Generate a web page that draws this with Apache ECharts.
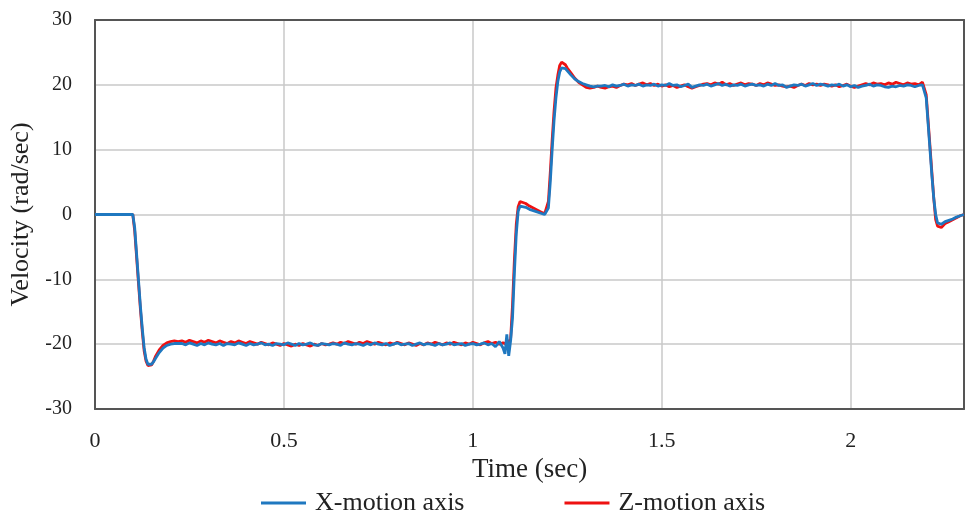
<!DOCTYPE html>
<html>
<head>
<meta charset="utf-8">
<script src="https://cdn.jsdelivr.net/npm/echarts@6/dist/echarts.min.js"></script>
<style>
html,body{margin:0;padding:0;background:#fff;}
#chart{width:967px;height:513px;}
</style>
</head>
<body>
<div id="chart"></div>
<script>
// Sample times (sec)
var times = [
  0, 0.1,
  0.105, 0.11, 0.115, 0.12, 0.125, 0.13, 0.135, 0.14, 0.145, 0.15, 0.155, 0.16, 0.17, 0.18, 0.19, 0.2, 0.21, 0.22,
  0.23, 0.24, 0.25, 0.26, 0.27, 0.28, 0.29, 0.30, 0.31, 0.32,
  0.33, 0.34, 0.35, 0.36, 0.37, 0.38, 0.39, 0.40, 0.41, 0.42,
  0.43, 0.44, 0.45, 0.46, 0.47, 0.48, 0.49, 0.50, 0.51, 0.52,
  0.53, 0.54, 0.55, 0.56, 0.57, 0.58, 0.59, 0.60, 0.61, 0.62,
  0.63, 0.64, 0.65, 0.66, 0.67, 0.68, 0.69, 0.70, 0.71, 0.72,
  0.73, 0.74, 0.75, 0.76, 0.77, 0.78, 0.79, 0.80, 0.81, 0.82,
  0.83, 0.84, 0.85, 0.86, 0.87, 0.88, 0.89, 0.90, 0.91, 0.92,
  0.93, 0.94, 0.95, 0.96, 0.97, 0.98, 0.99, 1.00, 1.01, 1.02,
  1.03, 1.04, 1.05, 1.06, 1.07, 1.08,
  1.085, 1.09, 1.095, 1.1, 1.105, 1.11, 1.115, 1.12, 1.125, 1.13, 1.14, 1.15, 1.16, 1.17, 1.18, 1.19,
  1.195, 1.2, 1.205, 1.21, 1.215, 1.22, 1.225, 1.23, 1.235, 1.24, 1.245, 1.25, 1.26, 1.27, 1.28, 1.29,
  1.3, 1.31, 1.32, 1.33,
  1.34, 1.35, 1.36, 1.37, 1.38, 1.39, 1.40, 1.41, 1.42, 1.43,
  1.44, 1.45, 1.46, 1.47, 1.48, 1.49, 1.50, 1.51, 1.52, 1.53,
  1.54, 1.55, 1.56, 1.57, 1.58, 1.59, 1.60, 1.61, 1.62, 1.63,
  1.64, 1.65, 1.66, 1.67, 1.68, 1.69, 1.70, 1.71, 1.72, 1.73,
  1.74, 1.75, 1.76, 1.77, 1.78, 1.79, 1.80, 1.81, 1.82, 1.83,
  1.84, 1.85, 1.86, 1.87, 1.88, 1.89, 1.90, 1.91, 1.92, 1.93,
  1.94, 1.95, 1.96, 1.97, 1.98, 1.99, 2.00, 2.01, 2.02, 2.03,
  2.04, 2.05, 2.06, 2.07, 2.08, 2.09, 2.10, 2.11, 2.12, 2.13,
  2.14, 2.15, 2.16, 2.17, 2.18, 2.19,
  2.195, 2.2, 2.205, 2.21, 2.215, 2.22, 2.225, 2.23, 2.235, 2.24, 2.245, 2.25, 2.26, 2.27, 2.28, 2.29, 2.3
];

// X-motion axis velocity (rad/sec)
var xMotion = [
  0, 0,
  -2, -6, -10, -14, -17.5, -20.5, -22.3, -23.1, -23.3, -23.1, -22.7, -22.2, -21.3, -20.6, -20.2, -20.0, -19.9, -19.9,
  -19.9,-20.1,-19.8,-20.0,-20.2,-19.9,-20.1,-19.8,-20.0,-20.1,
  -19.9,-20.2,-19.9,-20.0,-20.1,-19.8,-20.0,-20.2,-19.9,-20.1,
  -20.0,-19.8,-20.1,-20.0,-20.2,-19.9,-20.0,-20.1,-19.8,-20.0,
  -20.2,-19.9,-20.1,-20.0,-19.8,-20.1,-20.2,-19.9,-20.0,-20.1,
  -19.9,-20.0,-20.2,-19.8,-20.0,-20.1,-19.9,-20.0,-20.2,-19.9,
  -20.1,-19.8,-20.0,-20.1,-19.9,-20.2,-20.0,-19.8,-20.1,-20.0,
  -19.9,-20.2,-20.0,-19.8,-20.1,-19.9,-20.0,-20.2,-19.9,-20.1,
  -20.0,-19.8,-20.1,-20.0,-19.9,-20.2,-20.0,-19.9,-20.1,-20.0,
  -19.8,-20.1,-19.9,-20.4,-19.6,-20.6,
  -21.5, -18.5, -21.8, -19.5, -16, -9, -3, 0.5, 1.3, 1.4, 1.1, 0.8, 0.6, 0.4, 0.2, 0.0,
  -0.1, 1, 5, 10, 14.5, 18, 20.5, 22, 22.6, 22.7, 22.5, 22.2, 21.5, 20.9, 20.5, 20.2,
  20.0, 19.8, 19.7, 19.8,
  19.8,19.9,19.7,20.0,19.8,19.9,20.1,19.8,20.0,19.9,
  20.1,19.8,20.0,19.9,20.1,19.8,20.0,19.9,20.2,19.9,
  20.0,19.7,19.9,20.1,19.6,19.8,20.0,19.9,20.1,19.8,
  20.0,20.2,19.9,20.1,19.8,20.0,19.9,20.1,19.8,20.0,
  20.1,19.9,20.0,19.8,20.1,19.9,20.2,19.9,20.0,19.6,
  19.8,20.0,19.9,20.1,19.8,20.0,20.2,19.9,20.1,20.0,
  19.8,20.0,19.9,20.1,19.8,20.0,19.7,19.9,19.6,19.8,
  19.9,20.1,19.8,20.0,19.9,19.7,19.6,19.8,19.7,19.9,
  19.8,20.0,19.9,19.7,19.9,20.0,
  20.0, 18, 14, 10, 6, 2.5, 0, -1.3, -1.6, -1.5, -1.3, -1.1, -0.9, -0.7, -0.4, -0.2, 0
];

// Z-motion axis velocity (rad/sec)
var zMotion = [
  0, 0,
  -2.5, -6.5, -10.5, -14.5, -18, -21, -22.6, -23.3, -23.4, -23.2, -22.6, -21.9, -20.9, -20.2, -19.8, -19.6, -19.5, -19.6,
  -19.5,-19.7,-19.4,-19.6,-19.8,-19.5,-19.7,-19.4,-19.6,-19.8,
  -19.5,-19.7,-19.9,-19.6,-19.8,-19.5,-19.7,-19.9,-19.6,-19.8,
  -20.0,-19.7,-19.9,-20.1,-19.8,-20.0,-20.2,-19.9,-20.1,-20.3,
  -20.0,-20.2,-19.9,-20.1,-20.3,-20.0,-20.2,-19.9,-20.1,-20.0,
  -19.8,-20.0,-19.7,-19.9,-19.6,-19.8,-20.0,-19.7,-19.9,-19.6,
  -19.8,-20.0,-19.7,-19.9,-20.1,-19.8,-20.0,-19.7,-19.9,-20.1,
  -19.8,-20.0,-20.2,-19.9,-20.1,-19.8,-20.0,-19.7,-19.9,-20.1,
  -19.8,-20.0,-19.7,-19.9,-20.1,-19.8,-20.0,-19.7,-19.9,-20.1,
  -19.8,-19.6,-19.9,-19.7,-20.0,-19.8,
  -19.8, -20.0, -19.6, -19.2, -14, -7, -1.5, 1.2, 2.0, 2.0, 1.7, 1.3, 1.0, 0.7, 0.4, 0.1,
  0.0, 2, 6.5, 11.5, 16, 19.5, 21.5, 23, 23.5, 23.4, 23.1, 22.6, 21.8, 21.0, 20.4, 20.0,
  19.6, 19.5, 19.6, 19.8,
  19.6,19.5,19.7,19.8,19.6,19.9,20.1,20.0,20.2,19.9,
  20.1,20.3,20.0,20.2,19.9,20.1,19.8,20.0,19.7,19.9,
  19.6,19.8,20.0,19.7,19.5,19.7,19.9,20.1,20.2,20.0,
  20.3,20.1,20.4,20.0,20.2,19.9,20.1,20.3,20.0,20.2,
  20.1,19.9,20.2,20.0,20.3,20.1,19.9,20.0,19.8,19.7,
  19.8,19.6,19.9,20.1,19.9,20.2,20.0,20.1,19.9,20.1,
  20.0,19.8,20.0,19.7,19.9,20.1,19.8,19.6,19.8,20.0,
  20.2,20.0,20.3,20.1,20.2,20.0,20.3,20.1,20.4,20.2,
  20.0,20.3,20.1,20.2,20.0,20.4,
  20.3, 18.5, 14.5, 10.5, 6.5, 2.5, -0.8, -1.8, -2.1, -2.0, -1.7, -1.4, -1.1, -0.8, -0.5, -0.2, 0
];

var seriesNames = ['X-motion axis', 'Z-motion axis'];
var xTicks = [0, 0.5, 1, 1.5, 2];
var yTicks = [-30, -20, -10, 0, 10, 20, 30];

function pairs(vals) {
  var out = [];
  for (var i = 0; i < times.length; i++) out.push([times[i], vals[i]]);
  return out;
}

var chart = echarts.init(document.getElementById('chart'), null, {renderer: 'canvas'});
var font = '"Liberation Serif", "Times New Roman", serif';
var frameLine = {show: true, onZero: false, lineStyle: {color: '#555555', width: 2}};
chart.setOption({
  animation: false,
  backgroundColor: '#ffffff',
  textStyle: {fontFamily: font},
  grid: {left: 95, right: 3, top: 20, bottom: 104},
  legend: {
    data: seriesNames,
    top: 485,
    left: 256,
    itemWidth: 45,
    itemHeight: 3,
    itemGap: 100,
    icon: 'rect',
    textStyle: {fontFamily: font, fontSize: 26, color: '#222', padding: [0, 0, 0, 4]}
  },
  xAxis: [{
    type: 'value',
    min: 0, max: 2.3, interval: 0.5,
    name: 'Time (sec)',
    nameLocation: 'middle',
    nameGap: 46,
    nameTextStyle: {fontFamily: font, fontSize: 27, color: '#222'},
    axisLine: frameLine,
    axisTick: {show: false},
    axisLabel: {
      fontFamily: font, fontSize: 22, color: '#222', margin: 21,
      formatter: function (v) { return xTicks.indexOf(v) >= 0 ? String(v) : ''; },
      showMaxLabel: false
    },
    splitLine: {show: true, showMinLine: false, showMaxLine: false, lineStyle: {color: '#c8c8c8', width: 1.5}}
  }, {
    type: 'value', position: 'top',
    min: 0, max: 2.3, interval: 0.5,
    axisLine: frameLine, axisTick: {show: false}, axisLabel: {show: false}, splitLine: {show: false}
  }],
  yAxis: [{
    type: 'value',
    min: -30, max: 30, interval: 10,
    name: 'Velocity (rad/sec)',
    nameLocation: 'middle',
    nameGap: 55,
    nameTextStyle: {fontFamily: font, fontSize: 26, color: '#222'},
    axisLine: frameLine,
    axisTick: {show: false},
    axisLabel: {
      fontFamily: font, fontSize: 20, color: '#222', margin: 23,
      formatter: function (v) { return yTicks.indexOf(v) >= 0 ? String(v) : ''; }
    },
    splitLine: {show: true, showMinLine: false, showMaxLine: false, lineStyle: {color: '#c8c8c8', width: 1.5}}
  }, {
    type: 'value', position: 'right',
    min: -30, max: 30, interval: 10,
    axisLine: frameLine, axisTick: {show: false}, axisLabel: {show: false}, splitLine: {show: false}
  }],
  series: [
    {
      name: seriesNames[0],
      type: 'line',
      data: pairs(xMotion),
      showSymbol: false,
      symbol: 'none',
      z: 3,
      itemStyle: {color: '#1f78c0'},
      lineStyle: {color: '#1f78c0', width: 2.8}
    },
    {
      name: seriesNames[1],
      type: 'line',
      data: pairs(zMotion),
      showSymbol: false,
      symbol: 'none',
      z: 2,
      itemStyle: {color: '#ee1111'},
      lineStyle: {color: '#ee1111', width: 2.8}
    }
  ]
});
</script>
</body>
</html>
